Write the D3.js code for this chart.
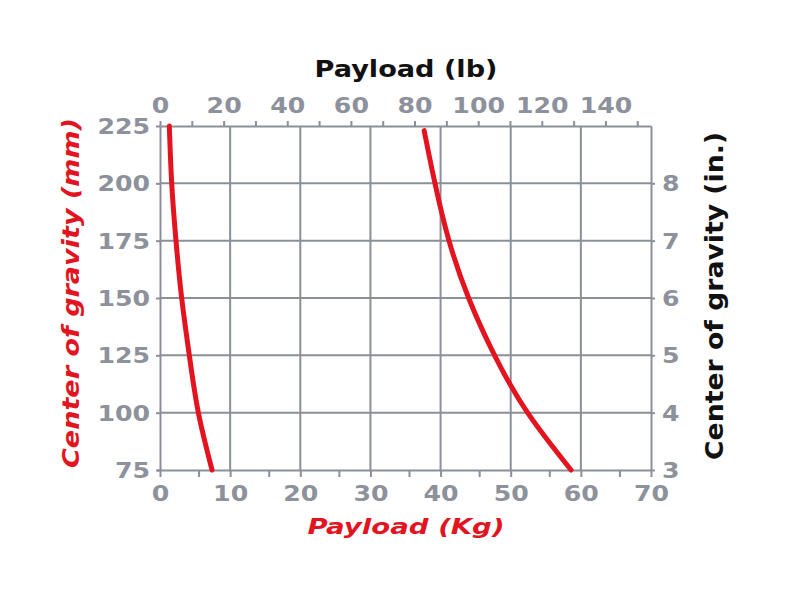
<!DOCTYPE html>
<html>
<head>
<meta charset="utf-8">
<script src="https://cdn.jsdelivr.net/npm/d3@7"></script>
<style>
  html, body { margin: 0; padding: 0; background: #fff; }
  svg { display: block; }
  text { font-family: "DejaVu Sans", Verdana, sans-serif; font-weight: bold; }
</style>
</head>
<body>
<svg id="chart" width="800" height="600"></svg>
<script>
// ---- data ----
const kgTicks = [0, 10, 20, 30, 40, 50, 60, 70];
const kgMinorTicks = [5.5, 15.5, 25.5, 35.5, 45.5, 55.5, 65.5];
const lbTicks = [0, 10, 20, 30, 40, 50, 60, 70, 80, 90, 100, 110, 120, 130, 140, 150];
const lbLabels = [0, 20, 40, 60, 80, 100, 120, 140];
const mmTicks = [75, 100, 125, 150, 175, 200, 225];
const inTicks = [3, 4, 5, 6, 7, 8];

const lightMm = [225, 200, 175, 150, 125, 100, 75];
const lightKg = [1.33, 1.67, 2.28, 3.09, 4.18, 5.47, 7.42];
const heavyMm = [223, 200, 175, 150, 125, 100, 75];
const heavyKg = [37.66, 39.2, 41.2, 44.0, 47.7, 52.4, 58.6];

const titleTop = "Payload (lb)";
const titleBottom = "Payload (Kg)";
const titleLeft = "Center of gravity (mm)";
const titleRight = "Center of gravity (in.)";

// ---- style ----
const GRAY = "#8b8f99";
const LABEL = "#8d919b";
const RED = "#e3141f";

const svg = d3.select("#chart");
const L = 160, R = 651, T = 126, B = 470;

const x = d3.scaleLinear().domain([0, 70]).range([L, R]);
const xLb = d3.scaleLinear().domain([0, 70 * 2.20462]).range([L, R]);
const y = d3.scaleLinear().domain([75, 225]).range([B, T]);
const yIn = d3.scaleLinear().domain([3, 9]).range([B, T]);

function widen(sel, k) {
  sel.each(function () {
    const w = this.getComputedTextLength();
    if (w > 0) {
      this.setAttribute("textLength", w * k);
      this.setAttribute("lengthAdjust", "spacingAndGlyphs");
    }
  });
}
function fixLen(sel, len) {
  sel.attr("textLength", len).attr("lengthAdjust", "spacingAndGlyphs");
}

// grid
const grid = svg.append("g").attr("stroke", GRAY).attr("stroke-width", 2);
grid.selectAll("line.v").data(kgTicks.filter(d => d > 0 && d < 70)).join("line")
  .attr("x1", d => x(d)).attr("x2", d => x(d)).attr("y1", T).attr("y2", B);
grid.selectAll("line.h").data(mmTicks.filter(d => d > 75 && d < 225)).join("line")
  .attr("x1", L).attr("x2", R).attr("y1", d => y(d)).attr("y2", d => y(d));

// bottom axis (kg)
const axB = svg.append("g").attr("transform", `translate(0,${B})`)
  .call(d3.axisBottom(x).tickValues(kgTicks).tickSize(7).tickSizeOuter(0).tickPadding(9));
svg.append("g").attr("transform", `translate(0,${B})`)
  .call(d3.axisBottom(x).tickValues(kgMinorTicks).tickSize(7).tickSizeOuter(0).tickFormat(""))
  .call(g => g.select(".domain").remove());

// top axis (lb)
const axT = svg.append("g").attr("transform", `translate(0,${T})`)
  .call(d3.axisTop(xLb).tickValues(lbTicks).tickSize(5).tickSizeOuter(0).tickPadding(8)
    .tickFormat(d => lbLabels.includes(d) ? d : ""));

// left axis (mm)
const axL = svg.append("g").attr("transform", `translate(${L},0)`)
  .call(d3.axisLeft(y).tickValues(mmTicks).tickSize(4).tickSizeOuter(0).tickPadding(6));

// right axis (in)
const axR = svg.append("g").attr("transform", `translate(${R},0)`)
  .call(d3.axisRight(yIn).tickValues(inTicks).tickSize(4).tickSizeOuter(0).tickPadding(7)
    .tickFormat(d3.format("d")));

[axB, axT, axL, axR].forEach(a => {
  a.attr("font-family", null).attr("font-size", null);
  a.selectAll(".domain").attr("stroke", GRAY).attr("stroke-width", 2);
  a.selectAll(".tick line").attr("stroke", GRAY).attr("stroke-width", 2);
  a.selectAll(".tick text").attr("fill", LABEL).style("font-size", "21px");
});
svg.selectAll(".tick line").attr("stroke", GRAY).attr("stroke-width", 2);
axB.select(".domain").attr("d", `M${L - 3},0.5H${R}`);

axB.selectAll(".tick text").attr("dy", "0.71em");
axL.selectAll(".tick text").attr("dy", "0.36em");
axR.selectAll(".tick text").attr("dy", "0.36em");
[axB, axT, axL, axR].forEach(a => widen(a.selectAll(".tick text"), 1.2));

// curves
const line = d3.line().x(d => x(d[0])).y(d => y(d[1])).curve(d3.curveNatural);
const series = [
  lightKg.map((k, i) => [k, lightMm[i]]),
  heavyKg.map((k, i) => [k, heavyMm[i]])
];
svg.append("g").selectAll("path").data(series).join("path")
  .attr("d", d => line(d))
  .attr("fill", "none").attr("stroke", RED).attr("stroke-width", 5)
  .attr("stroke-linecap", "round");

// titles
svg.append("text").attr("x", 406).attr("y", 77).attr("text-anchor", "middle")
  .attr("fill", "#111").style("font-size", "23px").text(titleTop)
  .call(s => fixLen(s, 183));
svg.append("text").attr("x", 406).attr("y", 534).attr("text-anchor", "middle")
  .attr("fill", RED).style("font-size", "22px").style("font-style", "italic").text(titleBottom)
  .call(s => fixLen(s, 197));
svg.append("text").attr("transform", "translate(79,293) rotate(-90)").attr("text-anchor", "middle")
  .attr("fill", RED).style("font-size", "23px").style("font-style", "italic").text(titleLeft)
  .call(s => fixLen(s, 350));
svg.append("text").attr("transform", "translate(723,296) rotate(-90)").attr("text-anchor", "middle")
  .attr("fill", "#111").style("font-size", "24px").text(titleRight)
  .call(s => fixLen(s, 328));
</script>
</body>
</html>
